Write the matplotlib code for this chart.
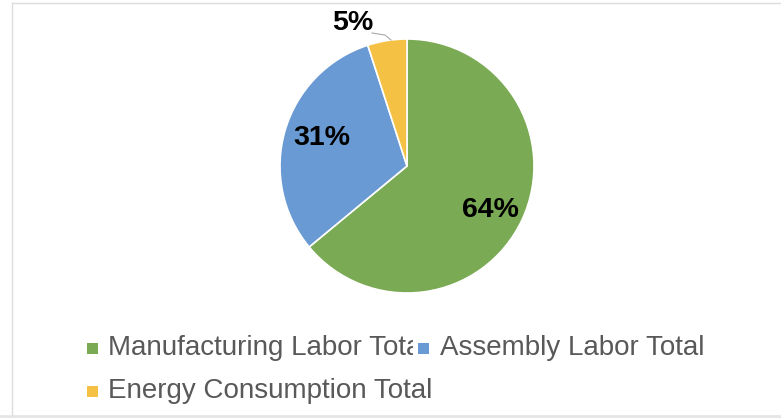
import matplotlib
matplotlib.use("Agg")
import matplotlib.pyplot as plt
from matplotlib.patches import Rectangle

categories = ["Manufacturing Labor Total", "Assembly Labor Total", "Energy Consumption Total"]
values = [64, 31, 5]
colors = ["#7BAA55", "#6A9AD3", "#F5C144"]

W, H = 781, 418
fig = plt.figure(figsize=(W / 100, H / 100), dpi=100)
ax = fig.add_axes([0, 0, 1, 1])
plt.rcParams['font.family'] = ['Liberation Sans', 'DejaVu Sans']

# frame lines
ax.plot([12, W], [3, 3], color="#dddddd", lw=1)
ax.plot([12, 12], [3, H], color="#dddddd", lw=1)
ax.plot([0, W], [416, 416], color="#e6e6e6", lw=2)

cx, cy, r = 407, 166, 127
# y axis is inverted, so counterclock=True runs clockwise on screen
wedges, _ = ax.pie(values, colors=colors, startangle=-90, counterclock=True,
                   center=(cx, cy), radius=r, frame=True,
                   wedgeprops=dict(edgecolor="white", linewidth=1.2))
ax.set_xlim(0, W)
ax.set_ylim(H, 0)
ax.set_aspect("equal")
ax.axis("off")

lab_kw = dict(fontsize=20.5, fontweight="bold", color="black", ha="center", va="center")
ax.text(490, 210, f"{values[0]}%", **lab_kw)
ax.text(322, 138, f"{values[1]}%", **lab_kw)
ax.text(353, 23, f"{values[2]}%", **lab_kw)
ax.plot([372, 385, 391], [33, 35, 40], color="#aaaaaa", lw=0.8)

leg_kw = dict(fontsize=20, color="#595959", ha="left", va="center")
ax.add_patch(Rectangle((87, 343), 11, 11, color=colors[0], lw=0))
ax.text(108, 348, categories[0], **leg_kw)
ax.add_patch(Rectangle((413, 333), 24, 30, color="white", lw=0, zorder=5))
ax.add_patch(Rectangle((418, 343), 11, 11, color=colors[1], lw=0, zorder=6))
ax.text(440, 348, categories[1], **leg_kw)
ax.add_patch(Rectangle((87, 386), 11, 11, color=colors[2], lw=0))
ax.text(108, 391, categories[2], **leg_kw)

fig.savefig("out.png", dpi=100)
